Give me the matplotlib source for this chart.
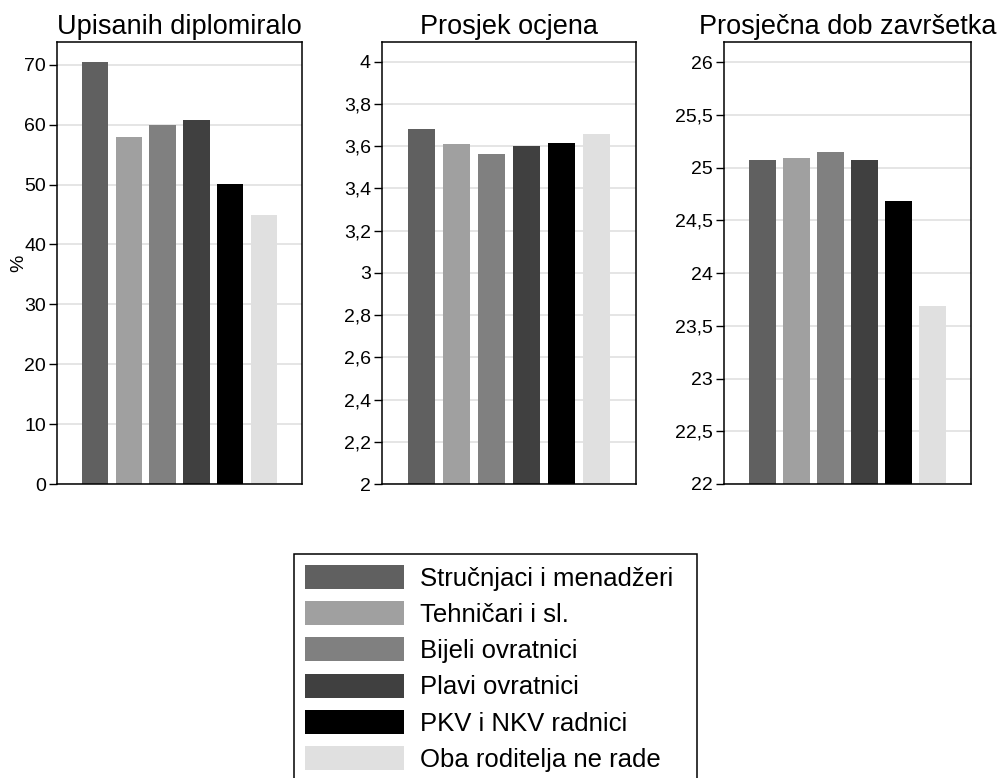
import matplotlib
matplotlib.use("Agg")
import matplotlib.pyplot as plt
from matplotlib.patches import Rectangle
import numpy as np

plt.rcParams['font.family'] = ['Liberation Sans', 'DejaVu Sans']

categories = ["Stručnjaci i menadžeri", "Tehničari i sl.", "Bijeli ovratnici",
              "Plavi ovratnici", "PKV i NKV radnici", "Oba roditelja ne rade"]
colors = ["#606060", "#a0a0a0", "#808080", "#404040", "#000000", "#e0e0e0"]

titles = ["Upisanih diplomiralo", "Prosjek ocjena", "Prosječna dob završetka"]
upisanih = [70.5, 57.9, 60.0, 60.7, 50.1, 44.9]
prosjek = [3.68, 3.61, 3.565, 3.60, 3.615, 3.655]
dob = [25.07, 25.09, 25.145, 25.07, 24.68, 23.69]

ticks1 = [0, 10, 20, 30, 40, 50, 60, 70]
ticks2 = [2, 2.2, 2.4, 2.6, 2.8, 3, 3.2, 3.4, 3.6, 3.8, 4]
ticks3 = [22, 22.5, 23, 23.5, 24, 24.5, 25, 25.5, 26]

def fmt(v):
    return ("%g" % v).replace(".", ",")

W, H = 998, 778
fig = plt.figure(figsize=(W / 100, H / 100), dpi=100)

panels = [
    (57, 245, upisanih, ticks1, (0, 73.8)),
    (382, 254, prosjek, ticks2, (2, 4.093)),
    (724, 247, dob, ticks3, (22, 26.19)),
]
bottom_px, top_px = 484, 42
x = np.arange(len(categories))
handles = None
for i, (left, width, vals, ticks, ylim) in enumerate(panels):
    ax = fig.add_axes([left / W, 1 - bottom_px / H, width / W, (bottom_px - top_px) / H])
    ax.set_axisbelow(True)
    ax.yaxis.grid(True, color="#e0e0e0", linewidth=1.2)
    bars = ax.bar(x, vals, width=0.78, color=colors, linewidth=0)
    if handles is None:
        handles = bars
    ax.set_ylim(*ylim)
    ax.set_xlim(-1.12, 6.12)
    ax.set_xticks([])
    ax.set_yticks(ticks)
    ax.set_yticklabels([fmt(t) for t in ticks])
    ax.tick_params(axis="y", labelsize=14, length=6, width=1, direction="out", pad=2)
    for sp in ax.spines.values():
        sp.set_linewidth(1.1)
        sp.set_color("black")
    ax.set_title(titles[i], fontsize=19.5, pad=6)
    if i == 0:
        ax.set_ylabel("%", fontsize=14, labelpad=-2)

fs = 18.5
leg = fig.legend(handles, categories, loc="upper left",
                 bbox_to_anchor=(294 / W, 1 - 554 / H),
                 fontsize=fs, frameon=False,
                 handlelength=3.85, handleheight=1.05,
                 labelspacing=0.41, handletextpad=0.62, borderpad=0.43,
                 borderaxespad=0)
# legend frame (extends past the bottom edge as in the reference)
frame = Rectangle((294 / W, -20 / H), (697 - 294) / W, (H - 554 + 20) / H,
                  transform=fig.transFigure, fill=False, edgecolor="black",
                  linewidth=1.1)
fig.add_artist(frame)

fig.savefig("out.png", dpi=100)
